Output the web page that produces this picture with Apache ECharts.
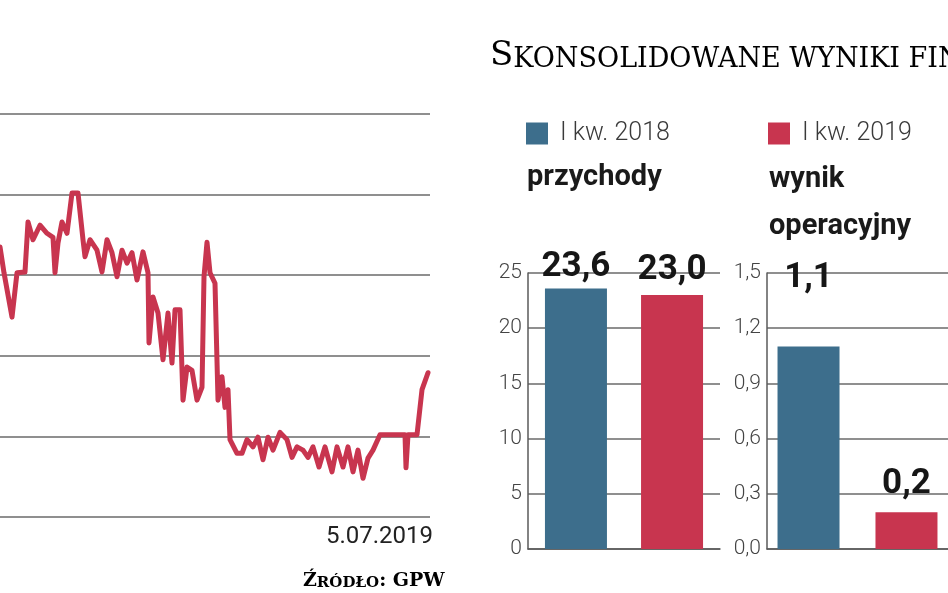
<!DOCTYPE html>
<html>
<head>
<meta charset="utf-8">
<script src="https://cdn.jsdelivr.net/npm/echarts@6/dist/echarts.min.js"></script>
<style>
html,body{margin:0;padding:0;background:#fff;}
#c{width:948px;height:593px;}
</style>
</head>
<body>
<div id="c"></div>
<script>
// ---- data ----
// share price (grid units; the y-axis labels are cut off in the source), x = trading-day index
var priceX = [0,4,12,17,25,28,33,40,47,53,55,58,62,67,72,78,83,85,90,97,102,107,112,117,122,127,132,137,143,148,149,153,158,163,168,172,175,180,183,187,192,197,202,204,207,210,215,218,222,225,228,230,237,242,247,253,258,263,268,273,280,287,292,297,303,308,313,319,325,332,337,343,348,353,358,363,368,373,380,387,400,405,406,408,417,422,428];
var priceY = [3.35,3.03,2.48,3.03,3.04,3.66,3.44,3.62,3.52,3.47,3.03,3.40,3.66,3.52,4.02,4.02,3.44,3.23,3.44,3.31,3.04,3.44,3.28,2.98,3.31,3.15,3.28,2.94,3.29,3.03,2.16,2.73,2.53,1.95,2.53,1.91,2.57,2.57,1.45,1.86,1.82,1.45,1.61,2.98,3.41,3.03,2.90,1.45,1.74,1.36,1.58,0.96,0.79,0.79,0.96,0.87,0.99,0.71,0.99,0.83,1.05,0.96,0.74,0.87,0.83,0.74,0.87,0.62,0.87,0.56,0.87,0.62,0.87,0.56,0.83,0.48,0.73,0.83,1.02,1.02,1.02,1.02,0.61,1.02,1.02,1.58,1.79];
var lastDateLabel = '5.07.2019';

var seriesNames = ['I kw. 2018', 'I kw. 2019'];
var revenue = [23.6, 23.0];      // przychody
var opResult = [1.1, 0.2];       // wynik operacyjny
var revenueTicks = [0, 25, 5];   // min, max, interval
var opTicks = [0, 1.5, 0.3];

var colBlue = '#3d6e8c', colRed = '#c8354f';
var sans = 'Roboto,"DejaVu Sans Condensed",sans-serif';
var serif = '"DejaVu Serif","Liberation Serif",serif';

function pl(v){ return v.toFixed(1).replace('.', ','); }

var pricePts = priceX.map(function(x,i){ return [x, priceY[i]]; });

var chart = echarts.init(document.getElementById('c'), null, {renderer:'canvas'});

var gridLine = {show:true, lineStyle:{color:'#6a6a6a', width:1.5}};
var axisLn = {show:true, lineStyle:{color:'#5a5a5a', width:1.5}};
var barLabelBase = {show:true, position:'top', fontFamily:sans, fontWeight:'bold', fontSize:35, color:'#161616', formatter:function(p){return pl(p.value);}};

function barData(vals, gaps){
  return vals.map(function(v,i){ return {value:v, label:{distance:gaps[i]}}; });
}
var legendText = {fontFamily:sans, fontWeight:300, fontSize:25, color:'#3a3a3a', padding:[0,0,0,7]};

var option = {
  backgroundColor:'#fff',
  animation:false,
  legend:[
    {data:[seriesNames[0]], left:526, top:121, padding:0, itemWidth:22, itemHeight:22, icon:'rect', itemGap:0, textStyle:legendText},
    {data:[seriesNames[1]], left:768, top:121, padding:0, itemWidth:22, itemHeight:22, icon:'rect', itemGap:0, textStyle:legendText}
  ],
  grid:[
    {left:0, top:114, width:430, height:403},
    {left:528, top:273, width:192, height:276},
    {left:767, top:273, width:196, height:276}
  ],
  xAxis:[
    {gridIndex:0, type:'value', min:0, max:430, show:false},
    {gridIndex:1, type:'category', data:['przychody'], axisLine:axisLn, axisTick:{show:false}, axisLabel:{show:false}},
    {gridIndex:2, type:'category', data:['wynik operacyjny'], axisLine:axisLn, axisTick:{show:false}, axisLabel:{show:false}}
  ],
  yAxis:[
    {gridIndex:0, type:'value', min:0, max:5, interval:1, axisLine:{show:false}, axisTick:{show:false}, axisLabel:{show:false}, splitLine:gridLine},
    {gridIndex:1, type:'value', min:revenueTicks[0], max:revenueTicks[1], interval:revenueTicks[2],
     axisLine:axisLn, axisTick:{show:false},
     axisLabel:{fontFamily:sans, fontWeight:300, fontSize:21, color:'#444', margin:6}, splitLine:gridLine},
    {gridIndex:2, type:'value', min:opTicks[0], max:opTicks[1], interval:opTicks[2],
     axisLine:axisLn, axisTick:{show:false},
     axisLabel:{fontFamily:sans, fontWeight:300, fontSize:21, color:'#444', margin:6, formatter:function(v){return pl(v);}}, splitLine:gridLine}
  ],
  series:[
    {type:'line', xAxisIndex:0, yAxisIndex:0, data:pricePts, symbol:'none', lineStyle:{color:colRed, width:5, join:'round', cap:'round'}, itemStyle:{color:colRed}, clip:false},
    {type:'bar', name:seriesNames[0], xAxisIndex:1, yAxisIndex:1, data:barData([revenue[0]],[4]), barWidth:62, barGap:'55%', itemStyle:{color:colBlue}, label:barLabelBase},
    {type:'bar', name:seriesNames[1], xAxisIndex:1, yAxisIndex:1, data:barData([revenue[1]],[7]), barWidth:62, barGap:'55%', itemStyle:{color:colRed}, label:barLabelBase},
    {type:'bar', name:seriesNames[0], xAxisIndex:2, yAxisIndex:2, data:barData([opResult[0]],[51]), barWidth:62, barGap:'58%', itemStyle:{color:colBlue}, label:barLabelBase},
    {type:'bar', name:seriesNames[1], xAxisIndex:2, yAxisIndex:2, data:barData([opResult[1]],[10]), barWidth:62, barGap:'58%', itemStyle:{color:colRed}, label:barLabelBase}
  ],
  graphic:[
    {type:'text', left:490, top:39, style:{
      text:'{a|S}{b|KONSOLIDOWANE WYNIKI FINANSOWE (MLN ZŁ)}',
      rich:{a:{fontFamily:serif, fontSize:34, color:'#262626', verticalAlign:'bottom', lineHeight:36},
            b:{fontFamily:serif, fontSize:27, color:'#262626', verticalAlign:'bottom', lineHeight:36}}
    }},
    {type:'text', left:527, top:163, style:{text:'przychody', fontFamily:sans, fontWeight:'bold', fontSize:29, fill:'#1a1a1a'}},
    {type:'text', left:769, top:156, style:{text:'wynik\noperacyjny', fontFamily:sans, fontWeight:'bold', fontSize:29, lineHeight:47, fill:'#1a1a1a'}},
    {type:'text', right:948-433, top:525, style:{text:lastDateLabel, fontFamily:sans, fontSize:24, fill:'#222', align:'right'}},
    {type:'text', left:303, top:572, style:{
      text:'{a|Ź}{b|RÓDŁO}{a|: GPW}',
      rich:{a:{fontFamily:serif, fontWeight:'bold', fontSize:19, color:'#3a3a3a', verticalAlign:'bottom', lineHeight:22},
            b:{fontFamily:serif, fontWeight:'bold', fontSize:15, color:'#3a3a3a', verticalAlign:'bottom', lineHeight:22}}
    }}
  ]
};
chart.setOption(option);
</script>
</body>
</html>
